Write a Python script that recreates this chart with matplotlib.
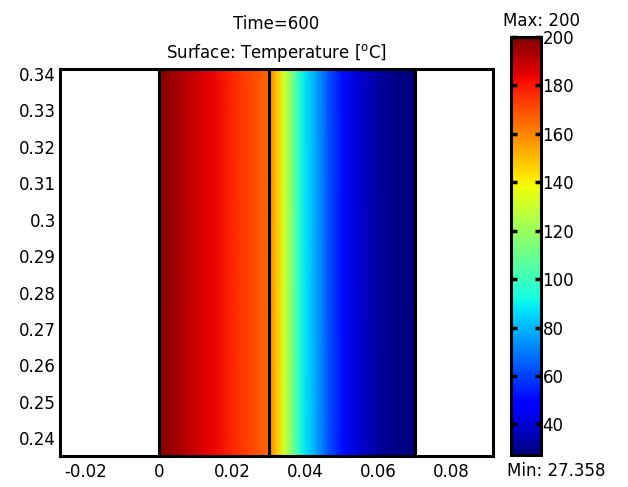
import numpy as np
import matplotlib
matplotlib.use("Agg")
import matplotlib.pyplot as plt
from matplotlib.ticker import FormatStrFormatter

# temperature read off the picture along x (it does not vary with y)
x_left = [0.0, 0.005, 0.01, 0.015, 0.02, 0.025, 0.03]
t_left = [200, 194, 188.5, 183.5, 177.5, 171.5, 165.5]

x_right = [0.03, 0.032, 0.034, 0.036, 0.038, 0.04, 0.043, 0.046, 0.05, 0.055, 0.06, 0.065, 0.07]
t_right = [162, 150, 133, 117, 99, 88, 77, 64, 51, 40, 32.5, 28.5, 27.358]

y_span = [0.2351, 0.3414]
t_min = 27.358
t_max = 200

x_ticks = [-0.02, 0, 0.02, 0.04, 0.06, 0.08]
y_ticks = [0.24, 0.25, 0.26, 0.27, 0.28, 0.29, 0.30, 0.31, 0.32, 0.33, 0.34]
cb_ticks = [40, 60, 80, 100, 120, 140, 160, 180, 200]

fs = 12
fig = plt.figure(figsize=(6.28, 4.87), dpi=100)
ax = fig.add_axes([0.0955, 0.0637, 0.6895, 0.7947])

norm = plt.Normalize(t_min, t_max)
for xs, ts in [(x_left, t_left), (x_right, t_right)]:
    X, Y = np.meshgrid(xs, y_span)
    T = np.vstack([ts, ts])
    mesh = ax.pcolormesh(X, Y, T, cmap="jet", norm=norm, shading="gouraud")

# domain boundaries
for xb in [x_left[0], x_left[-1], x_right[-1]]:
    ax.axvline(xb, color="black", lw=2.2)

ax.set_xlim(-0.0271, 0.0913)
ax.set_ylim(y_span)
ax.set_xticks(x_ticks)
ax.set_yticks(y_ticks)
ax.xaxis.set_major_formatter(FormatStrFormatter("%g"))
ax.yaxis.set_major_formatter(FormatStrFormatter("%g"))
ax.tick_params(length=0, labelsize=fs)
ax.tick_params(axis="y", pad=3)
ax.tick_params(axis="x", pad=5)
for s in ax.spines.values():
    s.set_linewidth(2.2)

ax.text(0.5, 1.115, "Time=600", transform=ax.transAxes, ha="center", va="center", fontsize=fs)
ax.text(0.5, 1.04, "Surface: Temperature [$^{\\rm o}$C]", transform=ax.transAxes,
        ha="center", va="center", fontsize=fs)

cax = fig.add_axes([0.8137, 0.0657, 0.048, 0.8583])
cb = fig.colorbar(mesh, cax=cax)
cb.set_ticks(cb_ticks)
cb.outline.set_linewidth(2.2)
cax.tick_params(direction="in", left=True, right=True, labelright=True,
                length=4, width=2.5, pad=1, labelsize=fs)

fig.text(0.862, 0.957, "Max: 200", ha="center", va="center", fontsize=fs)
fig.text(0.886, 0.033, "Min: 27.358", ha="center", va="center", fontsize=fs)

fig.savefig("out.png", dpi=100)
